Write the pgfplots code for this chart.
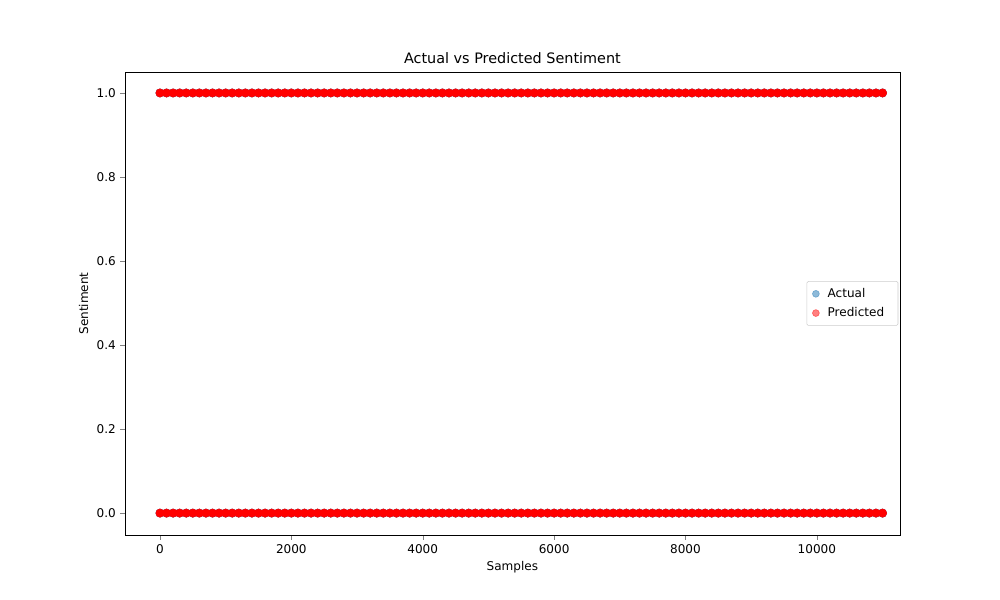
\documentclass[border=0pt]{standalone}
\usepackage{pgfplots}
\usepackage{pgfplotstable}
\pgfplotsset{compat=1.18}
\usepackage{fontspec}
\setmainfont{DejaVu Sans}
\definecolor{mplblue}{RGB}{31,119,180}
\pgfplotstableread[row sep=\\]{
x a b\\
0 0 1\\ 100 0 1\\ 200 0 1\\ 300 0 1\\ 400 0 1\\ 500 0 1\\ 600 0 1\\ 700 0 1\\ 800 0 1\\ 900 0 1\\
1000 0 1\\ 1100 0 1\\ 1200 0 1\\ 1300 0 1\\ 1400 0 1\\ 1500 0 1\\ 1600 0 1\\ 1700 0 1\\ 1800 0 1\\ 1900 0 1\\
2000 0 1\\ 2100 0 1\\ 2200 0 1\\ 2300 0 1\\ 2400 0 1\\ 2500 0 1\\ 2600 0 1\\ 2700 0 1\\ 2800 0 1\\ 2900 0 1\\
3000 0 1\\ 3100 0 1\\ 3200 0 1\\ 3300 0 1\\ 3400 0 1\\ 3500 0 1\\ 3600 0 1\\ 3700 0 1\\ 3800 0 1\\ 3900 0 1\\
4000 0 1\\ 4100 0 1\\ 4200 0 1\\ 4300 0 1\\ 4400 0 1\\ 4500 0 1\\ 4600 0 1\\ 4700 0 1\\ 4800 0 1\\ 4900 0 1\\
5000 0 1\\ 5100 0 1\\ 5200 0 1\\ 5300 0 1\\ 5400 0 1\\ 5500 0 1\\ 5600 0 1\\ 5700 0 1\\ 5800 0 1\\ 5900 0 1\\
6000 0 1\\ 6100 0 1\\ 6200 0 1\\ 6300 0 1\\ 6400 0 1\\ 6500 0 1\\ 6600 0 1\\ 6700 0 1\\ 6800 0 1\\ 6900 0 1\\
7000 0 1\\ 7100 0 1\\ 7200 0 1\\ 7300 0 1\\ 7400 0 1\\ 7500 0 1\\ 7600 0 1\\ 7700 0 1\\ 7800 0 1\\ 7900 0 1\\
8000 0 1\\ 8100 0 1\\ 8200 0 1\\ 8300 0 1\\ 8400 0 1\\ 8500 0 1\\ 8600 0 1\\ 8700 0 1\\ 8800 0 1\\ 8900 0 1\\
9000 0 1\\ 9100 0 1\\ 9200 0 1\\ 9300 0 1\\ 9400 0 1\\ 9500 0 1\\ 9600 0 1\\ 9700 0 1\\ 9800 0 1\\ 9900 0 1\\
10000 0 1\\ 10100 0 1\\ 10200 0 1\\ 10300 0 1\\ 10400 0 1\\ 10500 0 1\\ 10600 0 1\\ 10700 0 1\\ 10800 0 1\\ 10900 0 1\\
11000 0 1\\
}\data
\begin{document}
\fontsize{8.7}{10.4}\selectfont
\begin{tikzpicture}
\path[use as bounding box] (-90.3pt,-47pt) rectangle (632.4pt,386.6pt);
\begin{axis}[
  at={(0,0)}, anchor=south west,
  scale only axis, width=560pt, height=334.6pt,
  xmin=-533, xmax=11263, ymin=-0.052, ymax=1.05,
  xtick={0,2000,4000,6000,8000,10000},
  ytick={0,0.2,0.4,0.6,0.8,1.0},
  yticklabel style={/pgf/number format/.cd,fixed,fixed zerofill,precision=1},
  scaled x ticks=false,
  xticklabel style={/pgf/number format/.cd,1000 sep={}},
  /pgf/number format/assume math mode=true,
  tick align=outside, xtick pos=bottom, ytick pos=left,
  major tick length=3.5pt,
  ticklabel style={font=\fontsize{8.7}{10.4}\selectfont},
  label style={font=\fontsize{8.7}{10.4}\selectfont},
  xlabel={Samples}, ylabel={Sentiment},
  title={Actual vs Predicted Sentiment},
  title style={font=\fontsize{10.4}{12}\selectfont, yshift=-3pt},
  legend style={at={(0.998,0.5)}, anchor=east, draw=black!20, rounded corners=1pt,
    font=\fontsize{8.7}{10.4}\selectfont, row sep=2pt, inner xsep=4pt, inner ysep=3pt,
    nodes={inner xsep=6pt}},
  legend cell align=left,
]
\addplot[only marks, mark=*, mark size=3pt, draw=mplblue, fill=mplblue, forget plot] table[x=x,y=a]{\data};
\addplot[only marks, mark=*, mark size=3pt, draw=mplblue, fill=mplblue, forget plot] table[x=x,y=b]{\data};
\addplot[only marks, mark=*, mark size=3pt, draw=red, fill=red, forget plot] table[x=x,y=a]{\data};
\addplot[only marks, mark=*, mark size=3pt, draw=red, fill=red, forget plot] table[x=x,y=b]{\data};
\addlegendimage{only marks, mark=*, mark size=2.5pt, draw=mplblue, fill=mplblue, opacity=0.5}
\addlegendentry{Actual}
\addlegendimage{only marks, mark=*, mark size=2.5pt, draw=red, fill=red, opacity=0.5}
\addlegendentry{Predicted}
\end{axis}
\end{tikzpicture}
\end{document}
